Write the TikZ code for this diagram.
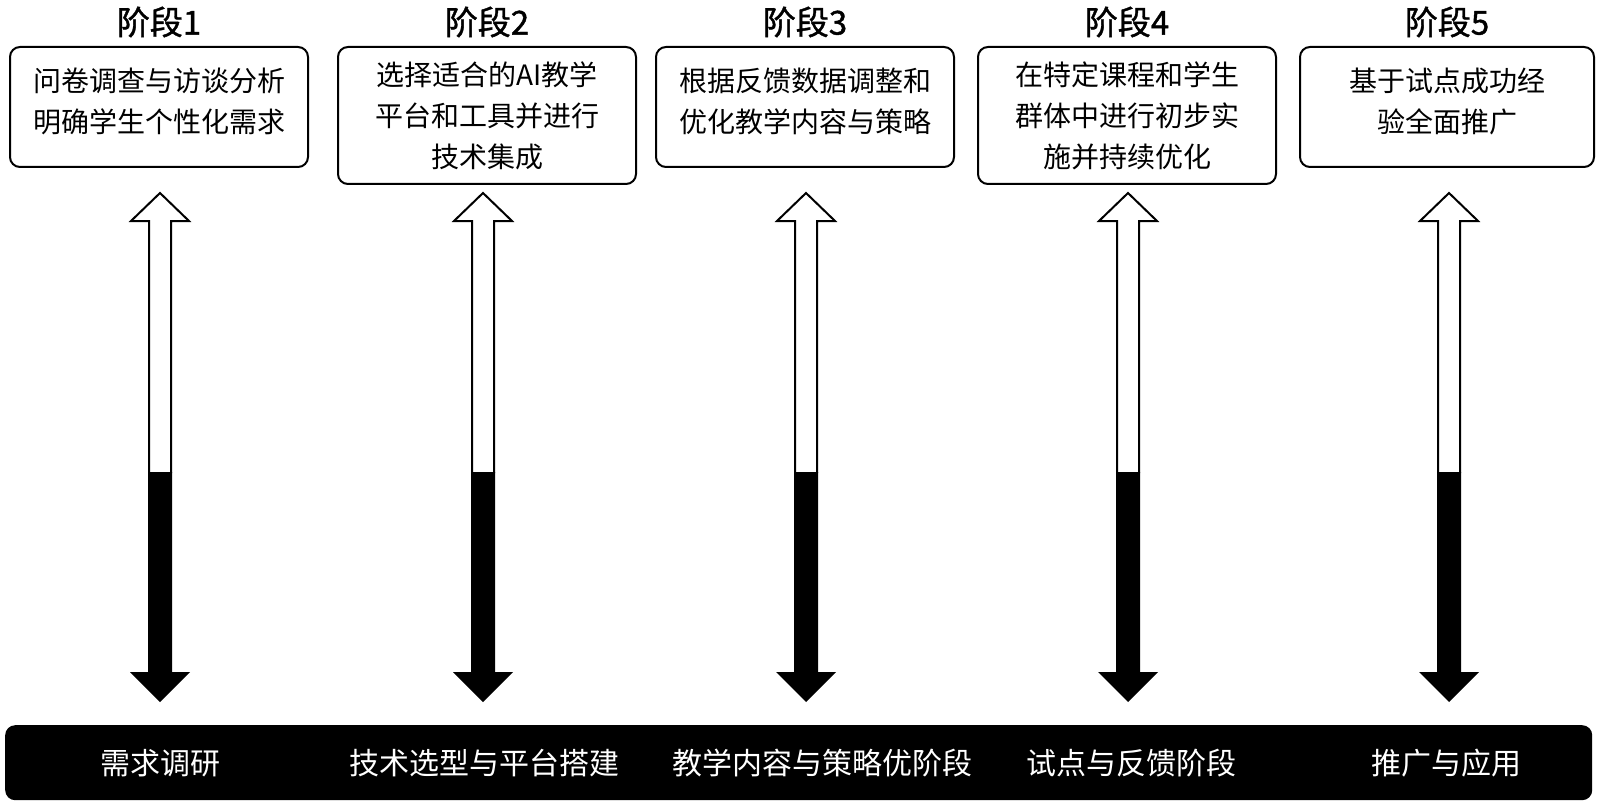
\documentclass[tikz,border=0pt]{standalone}
\usepackage{fontspec}
\setmainfont{Noto Sans CJK SC}
\newfontfamily\ttlfont[FakeBold=1.2]{Noto Sans CJK SC}
\newcommand{\lift}{\rule[-14pt]{0pt}{0pt}}
\begin{document}
\begin{tikzpicture}[x=1pt,y=-1pt,
  stagebox/.style={draw,line width=2pt,rounded corners=10pt,minimum width=298pt,align=center,
    font=\fontsize{28}{41}\selectfont,inner sep=0pt,anchor=north},
  ttl/.style={font=\fontsize{33}{36}\selectfont\ttlfont},
  barlbl/.style={text=white,font=\fontsize{30}{34}\selectfont},
  dualarrow/.pic={
    \draw[line width=2pt,fill=white,miter limit=10]
      (-11,473) -- (-11,221) -- (-29,221) -- (0,193) -- (29,221) -- (11,221) -- (11,473);
    \fill (-12,472) -- (-12,672) -- (-30,672) -- (0,702) -- (30,672) -- (12,672) -- (12,472) -- cycle;
  }]
\useasboundingbox (0,0) rectangle (1600,805);

% titles
\node[ttl] (t1) at (159,22) {阶段1};
\node[ttl] (t2) at (487,22) {阶段2};
\node[ttl] (t3) at (805,22) {阶段3};
\node[ttl] (t4) at (1127,22) {阶段4};
\node[ttl] (t5) at (1447,22) {阶段5};

% boxes
\node[stagebox,minimum height=120pt] (b1) at (159,46) {问卷调查与访谈分析\\明确学生个性化需求\lift};
\node[stagebox,minimum height=137pt] (b2) at (487,46) {选择适合的AI教学\\平台和工具并进行\\技术集成};
\node[stagebox,minimum height=120pt] (b3) at (805,46) {根据反馈数据调整和\\优化教学内容与策略\lift};
\node[stagebox,minimum height=137pt] (b4) at (1127,46) {在特定课程和学生\\群体中进行初步实\\施并持续优化};
\node[stagebox,minimum height=120pt,minimum width=294pt] (b5) at (1447,46) {基于试点成功经\\验全面推广\lift};

% arrows
\pic (p1) at (160,0) {dualarrow};
\pic (p2) at (483,0) {dualarrow};
\pic (p3) at (806,0) {dualarrow};
\pic (p4) at (1128,0) {dualarrow};
\pic (p5) at (1449,0) {dualarrow};

% bottom bar
\node[fill=black,rounded corners=10pt,minimum width=1587pt,minimum height=75pt,inner sep=0pt,anchor=north west] (bar) at (5,725) {};
\node[barlbl] (l1) at (160,763) {需求调研};
\node[barlbl] (l2) at (484,763) {技术选型与平台搭建};
\node[barlbl] (l3) at (822,763) {教学内容与策略优阶段};
\node[barlbl] (l4) at (1131,763) {试点与反馈阶段};
\node[barlbl] (l5) at (1446,763) {推广与应用};
\end{tikzpicture}
\end{document}
